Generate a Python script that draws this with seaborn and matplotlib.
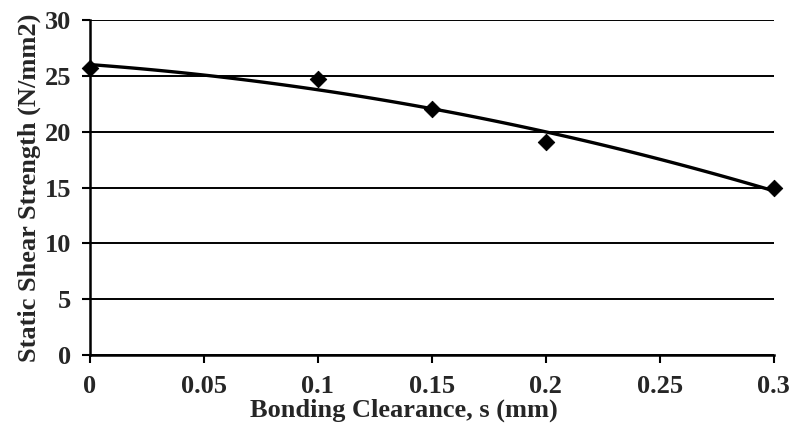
import numpy as np
import pandas as pd
import seaborn as sns
import matplotlib.pyplot as plt

# measured points
clearance = [0.0, 0.1, 0.15, 0.2, 0.3]
strength = [25.7, 24.7, 22.0, 19.1, 15.0]

x_ticks = [0, 0.05, 0.1, 0.15, 0.2, 0.25, 0.3]
x_labels = ['0', '0.05', '0.1', '0.15', '0.2', '0.25', '0.3']
y_ticks = [0, 5, 10, 15, 20, 25, 30]

df = pd.DataFrame({'clearance': clearance, 'strength': strength})

sns.set_style('white')
plt.rcParams['font.family'] = ['Liberation Serif', 'DejaVu Serif']
plt.rcParams['font.weight'] = 'bold'

fig = plt.figure(figsize=(7.92, 4.37), dpi=100)
ax = fig.add_axes([0.1136, 0.1876, 0.8634, 0.7666])

# polynomial trendline (2nd order) fitted by seaborn
sns.regplot(data=df, x='clearance', y='strength', order=2, ci=None,
            scatter=False, color='black', line_kws={'linewidth': 2.4}, ax=ax)
sns.scatterplot(data=df, x='clearance', y='strength', marker='D', s=70,
                color='black', edgecolor='black', zorder=5, ax=ax, clip_on=False)

ax.set_xlim(0, 0.3)
ax.set_ylim(0, 30)
ax.set_xticks(x_ticks)
ax.set_xticklabels(x_labels)
ax.set_yticks(y_ticks)
ax.yaxis.grid(True, color='black', linewidth=1.4)
ax.set_axisbelow(True)

for side in ['top', 'right']:
    ax.spines[side].set_visible(False)
for side in ['left', 'bottom']:
    ax.spines[side].set_color('black')
    ax.spines[side].set_linewidth(1.8)

ax.tick_params(axis='both', direction='out', length=5.5, width=1.5,
               color='black', labelsize=19, left=True, bottom=True)
ax.tick_params(axis='x', pad=9)
ax.tick_params(axis='y', pad=8)

ax.set_xlabel('Bonding Clearance, s (mm)', fontsize=19, fontweight='bold', labelpad=0)
ax.set_ylabel('Static Shear Strength (N/mm2)', fontsize=19, fontweight='bold', labelpad=3)
ax.xaxis.label.set_x(0.459)

fig.savefig('out.png', dpi=100)
